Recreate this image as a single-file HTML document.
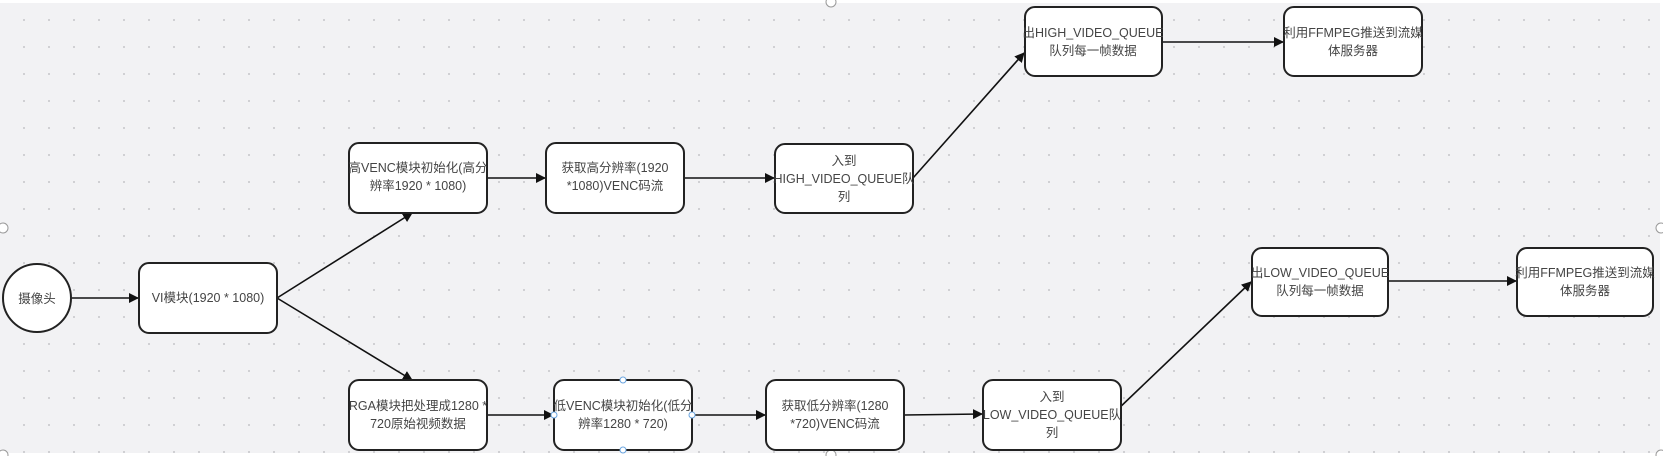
<!DOCTYPE html>
<html><head><meta charset="utf-8"><style>
html,body{margin:0;padding:0;background:#fff;}
svg{display:block;}
text{font-family:"Liberation Sans","Noto Sans CJK SC",sans-serif;font-size:12.5px;fill:#444;text-anchor:middle;}
</style></head><body>
<svg width="1663" height="456" viewBox="0 0 1663 456" xmlns="http://www.w3.org/2000/svg">
<defs>
<pattern id="dots" width="25" height="27" patternUnits="userSpaceOnUse" x="12" y="6">
<circle cx="12" cy="14" r="0.9" fill="#b8b8bc"/>
</pattern>
<marker id="ah" markerWidth="10" markerHeight="10" refX="9" refY="5" orient="auto" markerUnits="userSpaceOnUse">
<path d="M0,0 L10,5 L0,10 z" fill="#111"/>
</marker>
</defs>
<rect x="0" y="3" width="1660" height="450" fill="#f2f2f4"/>
<rect x="0" y="3" width="1660" height="450" fill="url(#dots)"/>
<g fill="#fff" stroke="#999" stroke-width="1">
<circle cx="831" cy="2" r="5"/><circle cx="3" cy="228" r="5"/><circle cx="1661" cy="228" r="5"/>
<circle cx="831" cy="455" r="5"/><circle cx="3" cy="455" r="5"/><circle cx="1661" cy="455" r="5"/>
</g>
<g stroke="#111" stroke-width="1.6" fill="none" marker-end="url(#ah)">
<line x1="72" y1="298" x2="138" y2="298"/>
<line x1="277" y1="298" x2="412" y2="213"/>
<line x1="277" y1="298" x2="412" y2="380"/>
<line x1="487" y1="178" x2="545" y2="178"/>
<line x1="684" y1="178" x2="774" y2="178"/>
<line x1="913" y1="178" x2="1024" y2="53"/>
<line x1="1162" y1="42" x2="1283" y2="42"/>
<line x1="487" y1="415" x2="553" y2="415"/>
<line x1="692" y1="415" x2="765" y2="415"/>
<line x1="904" y1="415" x2="982" y2="414"/>
<line x1="1116" y1="411" x2="1251" y2="282"/>
<line x1="1388" y1="281" x2="1516" y2="281"/>
</g>
<circle cx="37" cy="298" r="34" fill="#fff" stroke="#222" stroke-width="2"/>
<text x="37" y="303">摄像头</text>
<g fill="#fff" stroke="#222" stroke-width="2">
<rect x="139" y="263" width="138" height="70" rx="10"/>
<rect x="349" y="143" width="138" height="70" rx="10"/>
<rect x="349" y="380" width="138" height="70" rx="10"/>
<rect x="546" y="143" width="138" height="70" rx="10"/>
<rect x="775" y="144" width="138" height="69" rx="10"/>
<rect x="1025" y="7" width="137" height="69" rx="10"/>
<rect x="1284" y="7" width="138" height="69" rx="10"/>
<rect x="554" y="380" width="138" height="70" rx="10"/>
<rect x="766" y="380" width="138" height="70" rx="10"/>
<rect x="983" y="380" width="138" height="70" rx="10"/>
<rect x="1252" y="248" width="136" height="68" rx="10"/>
<rect x="1517" y="248" width="136" height="68" rx="10"/>
</g>
<g fill="#fff" stroke="#6aa5e0" stroke-width="1">
<circle cx="623" cy="380" r="3"/><circle cx="623" cy="450" r="3"/><circle cx="554" cy="415" r="3"/><circle cx="692" cy="415" r="3"/>
</g>
<text x="208" y="302">VI模块(1920 * 1080)</text>
<text x="418" y="172">高VENC模块初始化(高分</text><text x="418" y="190">辨率1920 * 1080)</text>
<text x="418" y="410">RGA模块把处理成1280 *</text><text x="418" y="428">720原始视频数据</text>
<text x="615" y="172">获取高分辨率(1920</text><text x="615" y="190">*1080)VENC码流</text>
<text x="844" y="165">入到</text><text x="844" y="183">HIGH_VIDEO_QUEUE队</text><text x="844" y="201">列</text>
<text x="1093" y="37">出HIGH_VIDEO_QUEUE</text><text x="1093" y="55">队列每一帧数据</text>
<text x="1353" y="37">利用FFMPEG推送到流媒</text><text x="1353" y="55">体服务器</text>
<text x="623" y="410">低VENC模块初始化(低分</text><text x="623" y="428">辨率1280 * 720)</text>
<text x="835" y="410">获取低分辨率(1280</text><text x="835" y="428">*720)VENC码流</text>
<text x="1052" y="401">入到</text><text x="1052" y="419">LOW_VIDEO_QUEUE队</text><text x="1052" y="437">列</text>
<text x="1320" y="277">出LOW_VIDEO_QUEUE</text><text x="1320" y="295">队列每一帧数据</text>
<text x="1585" y="277">利用FFMPEG推送到流媒</text><text x="1585" y="295">体服务器</text>
</svg>
</body></html>
